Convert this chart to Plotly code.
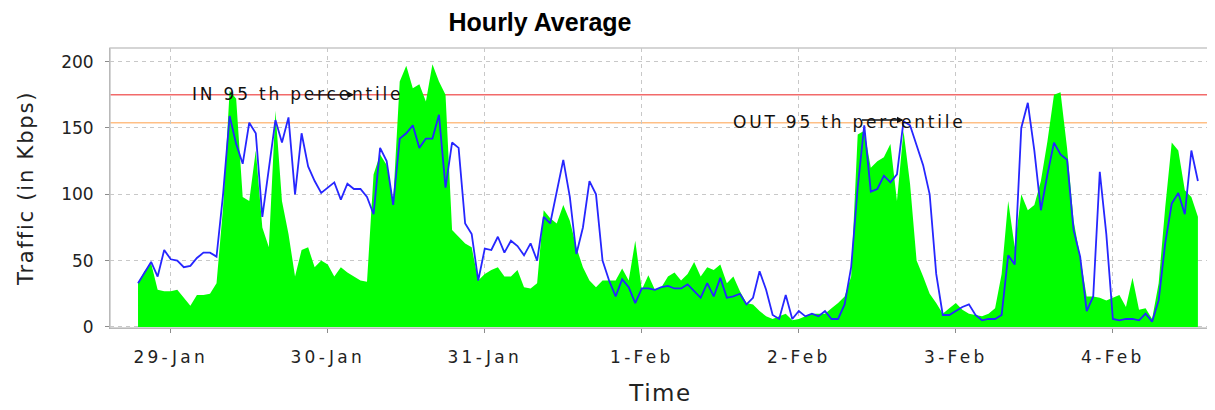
import pandas as pd
import plotly.graph_objects as go

# ---------------- data ----------------
start_time = "2013-01-28 19:00"   # first hourly sample

in_traffic = [
    33, 42, 48, 28, 27,
    27, 28, 22, 16, 24, 24, 25, 33, 90, 178,
    172, 98, 95, 133, 75, 60, 163, 95, 70, 38,
    58, 60, 45, 50, 47, 38, 45, 41, 38, 35,
    34, 115, 130, 122, 95, 185, 197, 180, 183, 170,
    198, 185, 175, 73, 68, 63, 60, 35, 40, 43,
    45, 38, 38, 43, 30, 29, 33, 88, 82, 78,
    92, 80, 60, 45, 35, 30, 35, 35, 35, 44,
    35, 65, 28, 39, 28, 30, 38, 41, 35, 40,
    49, 38, 45, 43, 47, 33, 38, 27, 18, 17,
    12, 8, 6, 8, 10, 5, 6, 8, 10, 10,
    10, 14, 18, 23, 38, 145, 148, 120, 125, 128,
    138, 95, 148, 108, 50, 38, 25, 18, 10, 14,
    18, 13, 10, 9, 8, 10, 14, 40, 95, 60,
    100, 88, 92, 110, 140, 175, 177, 135, 80, 53,
    23, 23, 22, 20, 22, 24, 15, 37, 13, 14,
    6, 33, 90, 139, 133, 103, 98, 83,
]

out_traffic = [
    33, 41, 49, 38, 58,
    51, 50, 45, 46, 52, 56, 56, 53, 100, 159,
    138, 123, 154, 146, 83, 118, 156, 139, 158, 100,
    146, 121, 110, 101, 105, 109, 96, 108, 104, 104,
    98, 85, 135, 125, 92, 142, 146, 152, 135, 142,
    142, 160, 105, 139, 135, 78, 70, 35, 59, 58,
    68, 56, 65, 61, 54, 63, 50, 83, 78, 102,
    126, 98, 55, 75, 110, 100, 50, 35, 23, 36,
    30, 18, 29, 29, 28, 30, 31, 29, 29, 32,
    27, 22, 33, 23, 37, 22, 23, 25, 17, 22,
    42, 28, 9, 6, 24, 6, 12, 8, 10, 8,
    12, 6, 6, 17, 45, 105, 152, 102, 104, 114,
    109, 115, 155, 152, 137, 122, 100, 40, 9, 9,
    12, 15, 17, 9, 5, 6, 6, 9, 54, 47,
    150, 169, 133, 88, 115, 139, 130, 126, 73, 53,
    12, 23, 117, 70, 6, 5, 6, 6, 5, 10,
    4, 20, 63, 93, 101, 85, 133, 110,
]

tick_dates = ["2013-01-29", "2013-01-30", "2013-01-31", "2013-02-01",
              "2013-02-02", "2013-02-03", "2013-02-04"]
tick_labels = ["29-Jan", "30-Jan", "31-Jan", "1-Feb", "2-Feb", "3-Feb", "4-Feb"]
y_ticks = [0, 50, 100, 150, 200]

in_95th = 175
out_95th = 154

title_text = "Hourly Average"
x_title = "Time"
y_title = "Traffic (in Kbps)"
in_label = "IN 95 th percentile"
out_label = "OUT 95 th percentile"


def spaced(text, px):
    """Wrap text in a span that widens the letter spacing (text stays text)."""
    return '<span style="letter-spacing:%spx">%s</span>' % (px, text)


# ---------------- figure ----------------
times = pd.date_range(start_time, periods=len(in_traffic), freq="h")

fig = go.Figure()

fig.add_trace(go.Scatter(
    x=times, y=in_traffic, mode="lines", name="IN",
    line=dict(width=0, color="#00ff00"),
    fill="tozeroy", fillcolor="#00ff00",
    showlegend=False,
))
fig.add_trace(go.Scatter(
    x=times, y=out_traffic, mode="lines", name="OUT",
    line=dict(width=1.8, color="#2626ff"),
    showlegend=False,
))

fig.add_hline(y=in_95th, line=dict(color="#f26a6a", width=1.5), layer="below")
fig.add_hline(y=out_95th, line=dict(color="#ffbf85", width=1.5), layer="below")

# plot-area border (light)
fig.add_shape(type="rect", xref="paper", yref="paper", x0=0, y0=0, x1=1, y1=1,
              line=dict(color="#c8c8c8", width=1.5), layer="above")

ann_font = dict(family="DejaVu Sans", size=17, color="#111111")
fig.add_annotation(x=pd.Timestamp("2013-01-29 19:18"), y=175.6,
                   text=spaced(in_label, 2.8),
                   showarrow=False, xanchor="center", yanchor="middle", font=ann_font)
fig.add_annotation(x=pd.Timestamp("2013-01-30 04:00"), y=in_95th, text="",
                   showarrow=True, ax=-42, ay=0, arrowhead=2, arrowsize=1,
                   arrowwidth=1.3, arrowcolor="#111111")
fig.add_annotation(x=pd.Timestamp("2013-02-02 07:48"), y=154.5,
                   text=spaced(out_label, 2.8),
                   showarrow=False, xanchor="center", yanchor="middle", font=ann_font)
fig.add_annotation(x=pd.Timestamp("2013-02-02 16:00"), y=156, text="",
                   showarrow=True, ax=-43, ay=0, arrowhead=2, arrowsize=1,
                   arrowwidth=1.3, arrowcolor="#111111")

tick_font = dict(family="DejaVu Sans", size=17, color="#222222")

# the page body has an 8px margin, so the figure is drawn 8px in from the top-left
W, H = 1207, 402

fig.update_layout(
    width=W, height=H,
    margin=dict(l=102, r=4, t=40, b=82),
    paper_bgcolor="white", plot_bgcolor="white",
    title=dict(text=title_text, x=532 / W, xref="container", xanchor="center",
               y=1 - 14 / H, yref="container", yanchor="middle",
               font=dict(family="Liberation Sans", size=25, weight="bold", color="#000000")),
    xaxis=dict(
        type="date",
        range=[pd.Timestamp("2013-01-28 14:43"), pd.Timestamp("2013-02-04 15:00")],
        tickvals=pd.to_datetime(tick_dates),
        ticktext=[spaced(t, 3.3) for t in tick_labels],
        showgrid=True, gridcolor="#c8c8c8", griddash="4px,4px", gridwidth=1,
        showline=True, linecolor="#8c8c8c", linewidth=1,
        ticks="outside", ticklen=4, tickcolor="#8c8c8c",
        tickfont=tick_font, ticklabelstandoff=10,
        title=dict(text=spaced(x_title, 1.5),
                   font=dict(family="DejaVu Sans", size=23, color="#222222"),
                   standoff=18),
        zeroline=False, automargin=False,
    ),
    yaxis=dict(
        range=[-0.8, 210.3],
        tickvals=y_ticks,
        showgrid=True, gridcolor="#c8c8c8", griddash="4px,4px", gridwidth=1,
        showline=True, linecolor="#8c8c8c", linewidth=1,
        ticks="outside", ticklen=4, tickcolor="#8c8c8c",
        tickfont=tick_font, ticklabelstandoff=8,
        title=dict(text=spaced(y_title, 1.8),
                   font=dict(family="DejaVu Sans", size=21, color="#222222"),
                   standoff=21),
        zeroline=False, automargin=False,
    ),
)

fig.write_html("out.html")
